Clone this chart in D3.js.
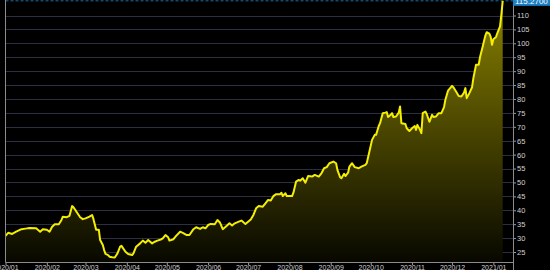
<!DOCTYPE html>
<html>
<head>
<meta charset="utf-8">
<script src="https://cdn.jsdelivr.net/npm/d3@7"></script>
<style>
  body { margin: 0; background: #000; }
  svg text { font-family: "Liberation Sans", Arial, sans-serif; }
</style>
</head>
<body>
<div id="chart"></div>
<script>
// price series: days counted from startDate, closing price
var startDate = "2020-01-01";
var days = [0, 2, 5, 8, 12, 15, 18, 23, 26, 28, 31, 33, 35, 37, 40, 42, 43, 46, 48, 50,
  51, 54, 56, 58, 60, 63, 65, 66, 68, 70, 71, 73, 74, 75, 77, 78, 80, 82, 84, 86,
  87, 90, 92, 95, 96, 98, 101, 103, 105, 107, 110, 112, 114, 117, 118, 120, 122, 123, 126, 128,
  131, 133, 136, 138, 141, 143, 146, 148, 150, 152, 154, 157, 159, 161, 163, 166, 168, 170, 172, 175,
  177, 180, 182, 184, 186, 188, 190, 193, 195, 197, 199, 201, 203, 206, 207, 208, 210, 211, 215, 216,
  218, 220, 221, 223, 225, 227, 230, 232, 235, 237, 239, 241, 243, 246, 248, 249, 251, 252, 254, 255,
  257, 258, 260, 262, 265, 267, 270, 271, 273, 275, 277, 278, 280, 281, 283, 285, 286, 287, 289, 290,
  291, 293, 295, 296, 297, 300, 301, 303, 305, 307, 308, 309, 311, 312, 313, 315, 316, 318, 320, 321,
  323, 325, 327, 329, 330, 332, 335, 336, 338, 340, 342, 344, 345, 346, 348, 350, 351, 353, 355, 356,
  358, 360, 361, 363, 364, 365, 366, 368, 369, 371, 372, 373];
var prices = [30.8, 31.9, 31.5, 32.3, 33.2, 33.4, 33.6, 33.5, 32.3, 33.2, 33.0, 32.3, 34.1, 35.0, 35.0, 36.5, 37.7, 37.5, 38.0, 41.5,
  41.1, 38.9, 37.5, 36.8, 37.1, 37.7, 38.3, 36.8, 33.0, 33.0, 29.3, 27.5, 25.7, 24.3, 23.9, 23.3, 23.1, 23.0, 24.5, 26.9,
  27.2, 25.1, 24.3, 23.9, 24.5, 26.9, 28.1, 29.1, 28.3, 29.3, 28.1, 28.7, 29.1, 29.6, 29.9, 31.1, 30.3, 29.1, 29.6, 30.8,
  32.3, 31.9, 31.1, 31.1, 33.2, 33.9, 33.3, 33.9, 33.5, 34.7, 35.1, 35.0, 36.5, 35.5, 33.2, 34.4, 35.3, 34.5, 35.3, 35.9,
  36.3, 35.1, 35.9, 36.7, 38.3, 40.7, 41.5, 41.3, 42.5, 43.7, 43.5, 45.1, 45.8, 45.8, 46.3, 45.1, 46.1, 45.1, 45.1, 46.3,
  50.3, 50.9, 50.6, 51.5, 49.9, 52.3, 52.1, 52.7, 52.1, 53.3, 55.1, 55.5, 56.9, 57.5, 56.9, 54.5, 51.9, 51.5, 53.1, 52.3,
  53.5, 55.7, 56.9, 55.5, 55.1, 55.7, 56.3, 56.9, 61.1, 65.3, 67.1, 67.1, 70.3, 71.3, 74.9, 75.1, 75.3, 73.5, 74.3, 74.9,
  73.5, 73.7, 75.1, 77.3, 71.3, 71.0, 69.5, 68.5, 69.5, 70.3, 68.9, 70.7, 68.9, 67.7, 74.9, 75.5, 74.6, 71.8, 74.3, 73.5,
  73.7, 74.9, 74.9, 77.1, 79.7, 83.0, 84.7, 84.2, 82.7, 81.1, 80.9, 82.3, 83.9, 80.3, 82.1, 84.2, 87.5, 92.3, 92.3, 95.1,
  98.9, 102.8, 104.0, 103.5, 102.3, 99.5, 101.5, 102.3, 103.7, 106.1, 110.3, 115.27];
var yTicks = [25, 30, 35, 40, 45, 50, 55, 60, 65, 70, 75, 80, 85, 90, 95, 100, 105, 110];
var lastPrice = 115.27;

var width = 550, height = 270;
var left = 5.5, right = 513, bottom = 262;

var t0 = d3.timeParse("%Y-%m-%d")(startDate);
var data = days.map(function(d, i) {
  return { date: d3.timeDay.offset(t0, d), value: prices[i] };
});

var x = d3.scaleTime()
  .domain([t0, d3.timeDay.offset(t0, 373)])
  .range([left, 502.7]);
var y = d3.scaleLinear()
  .domain([25, 110])
  .range([252, 15.5]);

var svg = d3.select("#chart").append("svg")
  .attr("width", width)
  .attr("height", height)
  .style("background", "#000");

var defs = svg.append("defs");
var grad = defs.append("linearGradient")
  .attr("id", "fillGrad")
  .attr("gradientUnits", "userSpaceOnUse")
  .attr("x1", 0).attr("y1", 0).attr("x2", 0).attr("y2", bottom);
grad.append("stop").attr("offset", "0%").attr("stop-color", "#8a8200");
grad.append("stop").attr("offset", "100%").attr("stop-color", "#080800");

// grid
svg.append("g")
  .selectAll("line")
  .data(yTicks)
  .enter().append("line")
  .attr("x1", left).attr("x2", right)
  .attr("y1", function(d) { return Math.round(y(d)) + 0.5; })
  .attr("y2", function(d) { return Math.round(y(d)) + 0.5; })
  .attr("stroke", "#2c2f42")
  .attr("stroke-width", 1);

// area + line
var area = d3.area()
  .x(function(d) { return x(d.date); })
  .y0(bottom)
  .y1(function(d) { return y(d.value); });
var line = d3.line()
  .x(function(d) { return x(d.date); })
  .y(function(d) { return y(d.value); });

svg.append("path")
  .datum(data)
  .attr("d", area)
  .attr("fill", "url(#fillGrad)");

// last price dashed line
svg.append("line")
  .attr("x1", left).attr("x2", right)
  .attr("y1", y(lastPrice)).attr("y2", y(lastPrice))
  .attr("stroke", "#1f6ea3")
  .attr("stroke-dasharray", "3,2");

svg.append("path")
  .datum(data)
  .attr("d", line)
  .attr("fill", "none")
  .attr("stroke", "#f4ee00")
  .attr("stroke-width", 2)
  .attr("stroke-linejoin", "round");

// right axis
var yAxis = svg.append("g")
  .attr("transform", "translate(" + right + ",0)")
  .call(d3.axisRight(y).tickValues(yTicks).tickSize(3).tickPadding(1));
yAxis.select(".domain").remove();
yAxis.selectAll("line").attr("stroke", "#9a9a9a");
yAxis.selectAll("text").attr("fill", "#d0d0d0").attr("font-size", "7.5px");

// bottom axis
var xAxis = svg.append("g")
  .attr("transform", "translate(0," + bottom + ")")
  .call(d3.axisBottom(x)
    .ticks(d3.timeMonth.every(1))
    .tickFormat(d3.timeFormat("%Y/%m"))
    .tickSize(3).tickPadding(0));
xAxis.select(".domain").remove();
xAxis.selectAll("line").attr("stroke", "#9a9a9a");
xAxis.selectAll("text").attr("fill", "#d0d0d0").attr("font-size", "7px");

// frame lines
svg.append("line")
  .attr("x1", left).attr("x2", right).attr("y1", bottom + 0.5).attr("y2", bottom + 0.5)
  .attr("stroke", "#8c8c8c");
svg.append("line")
  .attr("x1", left).attr("x2", left).attr("y1", 0).attr("y2", bottom)
  .attr("stroke", "#8c8c8c");
svg.append("line")
  .attr("x1", right + 0.5).attr("x2", right + 0.5).attr("y1", 0).attr("y2", height)
  .attr("stroke", "#8c8c8c");

// last price tag
svg.append("rect")
  .attr("x", right).attr("y", y(lastPrice) - 5)
  .attr("width", width - right).attr("height", 10)
  .attr("fill", "#1b80c4");
svg.append("text")
  .attr("x", right + 2).attr("y", y(lastPrice) + 3)
  .attr("fill", "#ffffff")
  .attr("font-size", "8px")
  .text(d3.format(".4f")(lastPrice));
</script>
</body>
</html>
